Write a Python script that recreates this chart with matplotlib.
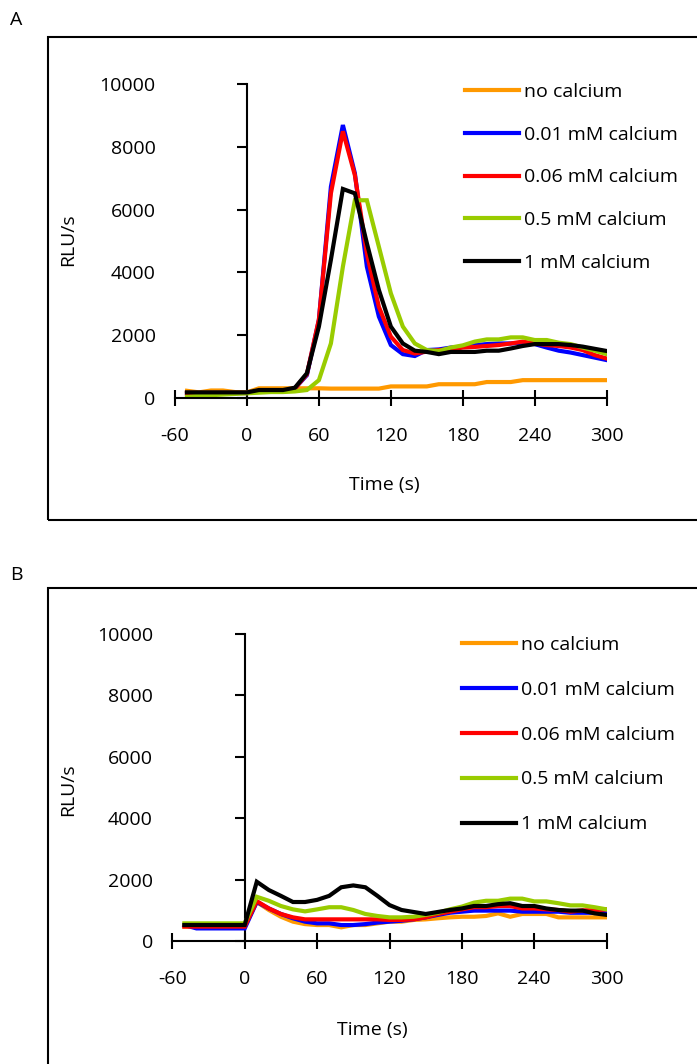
import numpy as np
import matplotlib
matplotlib.use("Agg")
import matplotlib.pyplot as plt
from matplotlib.patches import Rectangle

plt.rcParams['font.family'] = ['Open Sans', 'DejaVu Sans']
FS = 14

# time points (s), every 10 s
time = np.arange(-50, 301, 10)

labels = ["no calcium", "0.01 mM calcium", "0.06 mM calcium", "0.5 mM calcium", "1 mM calcium"]
colors = ["#FF9900", "#0000FF", "#FF0000", "#99CC00", "#000000"]

# panel A
a_none = [220, 170, 230, 230, 180, 170, 300, 300, 300, 300, 300, 300, 290, 290, 290, 290, 290, 360,
          360, 360, 360, 430, 430, 430, 430, 500, 500, 500, 560, 560, 560, 560, 560, 560, 560, 560]
a_001 = [150, 150, 150, 150, 150, 150, 200, 200, 200, 300, 720, 2480, 6730, 8700, 7160, 4180, 2590, 1680,
         1390, 1330, 1520, 1540, 1600, 1630, 1680, 1710, 1730, 1730, 1755, 1710, 1600, 1500, 1440, 1360, 1280, 1200]
a_006 = [150, 150, 150, 150, 150, 150, 200, 200, 200, 300, 750, 2500, 6520, 8500, 7100, 4600, 2900, 1950,
         1520, 1410, 1470, 1520, 1540, 1600, 1620, 1650, 1680, 1730, 1790, 1730, 1680, 1650, 1600, 1520, 1360, 1250]
a_05 = [30, 60, 80, 100, 120, 140, 160, 180, 180, 200, 245, 560, 1730, 4180, 6300, 6300, 4820, 3330,
        2270, 1730, 1520, 1490, 1600, 1670, 1790, 1860, 1860, 1925, 1925, 1840, 1840, 1755, 1710, 1600, 1500, 1390]
a_1 = [170, 170, 170, 170, 170, 170, 245, 245, 245, 320, 780, 2270, 4400, 6660, 6520, 4930, 3440, 2270,
       1730, 1500, 1460, 1390, 1460, 1460, 1460, 1500, 1500, 1570, 1650, 1710, 1710, 1710, 1680, 1630, 1560, 1490]

# panel B
b_none = [470, 470, 470, 470, 470, 470, 1270, 1010, 790, 630, 550, 520, 520, 445, 520, 520, 575, 630,
          630, 685, 705, 740, 770, 790, 790, 815, 900, 790, 880, 880, 880, 770, 770, 770, 770, 770]
b_001 = [520, 410, 410, 410, 410, 410, 1270, 1060, 880, 740, 630, 575, 575, 520, 520, 550, 600, 630,
         660, 705, 770, 850, 920, 955, 990, 990, 990, 990, 955, 955, 955, 955, 920, 920, 920, 900]
b_006 = [470, 470, 470, 470, 470, 470, 1300, 1060, 880, 770, 705, 705, 705, 705, 705, 705, 705, 685,
         685, 705, 770, 880, 955, 1030, 1100, 1100, 1140, 1140, 1060, 1060, 1030, 1010, 955, 1000, 1000, 1030]
b_05 = [575, 575, 575, 575, 575, 575, 1440, 1310, 1140, 1030, 965, 1030, 1100, 1100, 1010, 880, 815, 770,
        770, 790, 850, 920, 1030, 1120, 1250, 1310, 1310, 1380, 1380, 1290, 1290, 1230, 1160, 1160, 1100, 1030]
b_1 = [520, 520, 520, 520, 520, 520, 1930, 1660, 1470, 1270, 1270, 1340, 1470, 1750, 1810, 1750, 1470, 1170,
       1010, 945, 880, 945, 1010, 1060, 1140, 1140, 1200, 1230, 1140, 1140, 1060, 1010, 990, 990, 900, 850]

xticks = [-60, 0, 60, 120, 180, 240, 300]
yticks = [0, 2000, 4000, 6000, 8000, 10000]

W, H = 697, 1064
fig = plt.figure(figsize=(W / 100, H / 100), dpi=100)


def px(x, y):
    return x / W, 1 - y / H


def panel(rect, series, letter, letter_xy, box, ylab_xy, xlab_xy, leg_xy, leg_space):
    ax = fig.add_axes(rect)
    for vals, c, lab in zip(series, colors, labels):
        ax.plot(time, vals, color=c, lw=3, label=lab, solid_joinstyle='miter')
    ax.set_xlim(-60, 300)
    ax.set_ylim(0, 10000)
    ax.set_xticks(xticks)
    ax.set_yticks(yticks)
    ax.set_yticklabels([str(v) for v in yticks], fontsize=FS)
    ax.set_xticklabels([str(v) for v in xticks], fontsize=FS)
    for s in ('top', 'right', 'left'):
        ax.spines[s].set_visible(False)
    ax.spines['bottom'].set_linewidth(1.5)
    ax.tick_params(axis='y', length=0, pad=14)
    ax.tick_params(axis='x', direction='inout', length=12, width=1.5, pad=15)

    # vertical axis line at t = 0
    sec = ax.secondary_yaxis(60 / 360)
    sec.set_yticks(yticks)
    sec.set_yticklabels([])
    sec.spines['left'].set_linewidth(1.5)
    sec.tick_params(direction='out', length=7, width=1.5)

    leg = ax.legend(loc='upper left', bbox_to_anchor=px(*leg_xy), bbox_transform=fig.transFigure,
                    frameon=False, fontsize=FS, handlelength=2.8, handletextpad=0.25,
                    labelspacing=leg_space, borderpad=0, borderaxespad=0)
    for ln in leg.get_lines():
        ln.set_linewidth(3)

    fig.text(*px(*letter_xy), letter, fontsize=FS, ha='center', va='center')
    fig.text(*px(*ylab_xy), "RLU/s", fontsize=FS, rotation=90, ha='center', va='center')
    fig.text(*px(*xlab_xy), "Time (s)", fontsize=FS, ha='center', va='center')

    x0, y0, x1, y1 = box
    fig.add_artist(Rectangle(px(x0, y1), (x1 - x0) / W, (y1 - y0) / H, transform=fig.transFigure,
                             fill=False, edgecolor='black', lw=1.5, clip_on=False))
    return ax


panel([175 / W, 1 - 397.7 / H, 431.7 / W, 313.4 / H],
      [a_none, a_001, a_006, a_05, a_1], "A", (16, 20), (48, 37, 720, 520),
      (68, 240), (384, 485), (465, 83), 1.27)

panel([172.3 / W, 1 - 941 / H, 434.4 / W, 307 / H],
      [b_none, b_001, b_006, b_05, b_1], "B", (16, 575), (48, 588, 720, 1100),
      (68, 790), (372, 1030), (462, 636), 1.38)

fig.savefig("out.png", dpi=100)
